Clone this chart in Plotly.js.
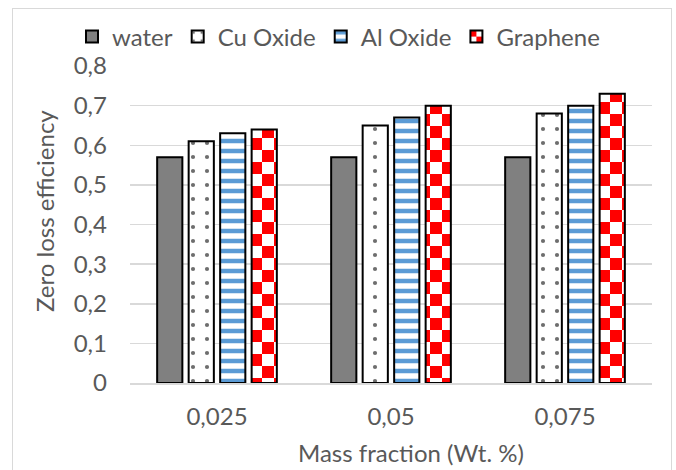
<!DOCTYPE html>
<html>
<head>
<meta charset="utf-8">
<script src="https://cdn.plot.ly/plotly-3.0.1.min.js"></script>
<style>
  html, body { margin: 0; padding: 0; background: #fff; }
  #wrap { position: relative; width: 676px; height: 470px; }
  #chart { width: 676px; height: 470px; }
  #frame { position: absolute; left: 12px; top: 8px; width: 658px; height: 470px;
           border: 1.5px solid #D9D9D9; border-bottom: none; pointer-events: none; }
</style>
</head>
<body>
<div id="wrap"><div id="chart"></div><div id="frame"></div></div>
<script>
const categories = ["0,025", "0,05", "0,075"];
const waterVals = [0.57, 0.57, 0.57];
const cuOxideVals = [0.61, 0.65, 0.68];
const alOxideVals = [0.63, 0.67, 0.70];
const grapheneVals = [0.64, 0.70, 0.73];
const seriesNames = ["water", "Cu Oxide", "Al Oxide", "Graphene"];

const FONT = "Lato, 'Liberation Sans', sans-serif";
const TXT = "#595959";
const outline = { color: "#000000", width: 2 };

const traces = [
  { type: "bar", name: seriesNames[0], x: categories, y: waterVals,
    marker: { color: "#808080", line: outline } },
  { type: "bar", name: seriesNames[1], x: categories, y: cuOxideVals,
    marker: { color: "#FFFFFF", line: outline,
      pattern: { shape: ".", fgcolor: "#6E6E6E", bgcolor: "#FFFFFF", fgopacity: 1, size: 14, solidity: 0.07, fillmode: "overlay" } } },
  { type: "bar", name: seriesNames[2], x: categories, y: alOxideVals,
    marker: { color: "#FFFFFF", line: outline,
      pattern: { shape: "-", fgcolor: "#5B9BD5", bgcolor: "#FFFFFF", fgopacity: 1, size: 10, solidity: 0.45, fillmode: "overlay" } } },
  { type: "bar", name: seriesNames[3], x: categories, y: grapheneVals,
    marker: { color: "#FFFFFF", line: outline,
      pattern: { shape: "x", fgcolor: "#FF0000", bgcolor: "#FFFFFF", fgopacity: 1, size: 24, solidity: 0.5, fillmode: "overlay" } } }
];

const layout = {
  width: 676, height: 470,
  margin: { l: 130, r: 24, t: 66, b: 87, pad: 0 },
  paper_bgcolor: "rgba(0,0,0,0)", plot_bgcolor: "rgba(0,0,0,0)",
  separators: ", ",
  font: { family: FONT, size: 24, color: TXT },
  barmode: "group", bargap: 0.276, bargroupgap: 0.2,
  showlegend: true,
  legend: { orientation: "h", xref: "paper", yref: "paper",
            x: (72 - 130) / 522, xanchor: "left", y: (383 - 37) / 317, yanchor: "middle",
            font: { family: FONT, size: 24, color: TXT }, traceorder: "normal",
            bgcolor: "rgba(0,0,0,0)" },
  xaxis: { type: "category", showgrid: false, showline: true, linecolor: "#D9D9D9", linewidth: 1.5,
           ticks: "", ticklabelstandoff: 12, tickfont: { family: FONT, size: 24, color: TXT },
           zeroline: false, fixedrange: true },
  yaxis: { range: [0, 0.8], dtick: 0.1, tick0: 0, showgrid: true, gridcolor: "#D9D9D9", gridwidth: 1.5,
           showline: false, zeroline: false, ticks: "", ticklabelstandoff: 22,
           tickfont: { family: FONT, size: 24, color: TXT }, fixedrange: true },
  annotations: [
    { text: "Mass fraction (Wt. %)", xref: "paper", yref: "paper", x: (411 - 130) / 522, y: (383 - 452) / 317,
      xanchor: "center", yanchor: "middle", showarrow: false, font: { family: FONT, size: 24, color: TXT } },
    { text: "Zero loss efficiency", xref: "paper", yref: "paper", x: (44 - 130) / 522, y: (383 - 211) / 317,
      xanchor: "center", yanchor: "middle", textangle: -90, showarrow: false, font: { family: FONT, size: 24, color: TXT } }
  ]
};

function checkerize() {
  const NS = "http://www.w3.org/2000/svg";
  document.querySelectorAll("pattern").forEach(p => {
    const html = p.innerHTML.toLowerCase();
    if (html.indexOf("255, 0, 0") === -1 && html.indexOf("#ff0000") === -1 && html.indexOf("rgb(255,0,0)") === -1) return;
    const s = 24, h = 12;
    p.setAttribute("width", s); p.setAttribute("height", s);
    while (p.firstChild) p.removeChild(p.firstChild);
    const mk = (x, y, w, hh, c) => { const r = document.createElementNS(NS, "rect");
      r.setAttribute("x", x); r.setAttribute("y", y); r.setAttribute("width", w); r.setAttribute("height", hh);
      r.setAttribute("fill", c); r.setAttribute("style", "fill:" + c); p.appendChild(r); };
    mk(0, 0, s, s, "#FFFFFF");
    mk(0, 0, h, h, "#FF0000");
    mk(h, h, h, h, "#FF0000");
  });
}

const gd = document.getElementById("chart");
Plotly.newPlot(gd, traces, layout, { staticPlot: true, displayModeBar: false }).then(() => {
  checkerize();
  gd.on && gd.on("plotly_afterplot", checkerize);
});
</script>
</body>
</html>
